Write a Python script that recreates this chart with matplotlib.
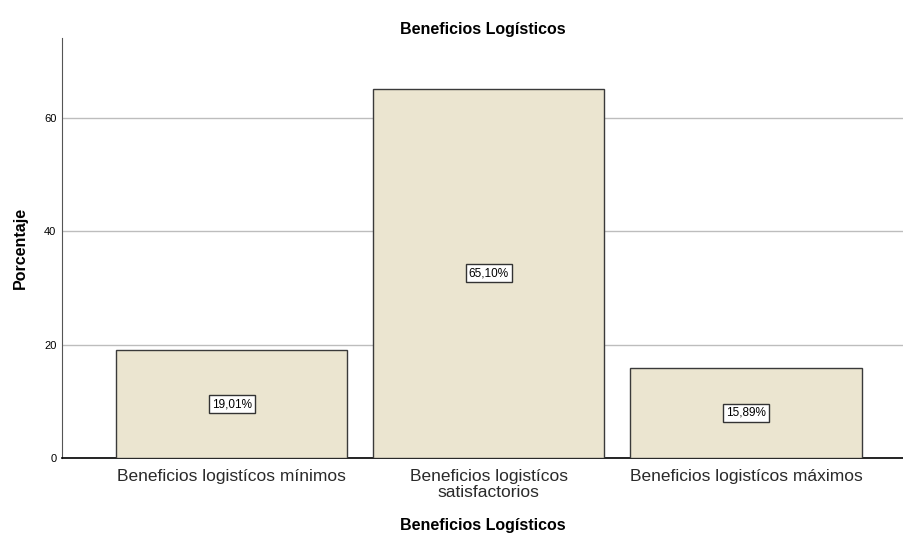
import numpy as np
import matplotlib.pyplot as plt

plt.rcParams['font.family'] = ['Liberation Sans', 'DejaVu Sans']

# --- Data ---
categories = ['Beneficios logistícos mínimos',
              'Beneficios logistícos\nsatisfactorios',
              'Beneficios logistícos máximos']
percentages = [19.01, 65.10, 15.89]
y_ticks = [0, 20, 40, 60]

fig = plt.figure(figsize=(9.04, 5.38), dpi=100)
ax = fig.add_axes([0.0686, 0.1487, 0.9314, 0.7805])

x = np.arange(len(categories))
ax.bar(x, percentages, width=0.9, color='#ebe5d0', edgecolor='#3a3a3a',
       linewidth=1.0, zorder=3)

for xi, val in zip(x, percentages):
    ax.text(xi, val / 2, f'{val:.2f}%'.replace('.', ','), ha='center', va='center',
            fontsize=8.5, zorder=4,
            bbox=dict(boxstyle='square,pad=0.25', facecolor='white',
                      edgecolor='#333333', linewidth=1.0))

ax.set_xlim(-0.66, 2.615)
ax.set_ylim(0, 74)
ax.set_yticks(y_ticks)
ax.set_yticklabels([str(t) for t in y_ticks], fontsize=8)
ax.set_xticks(x)
ax.set_xticklabels(categories, fontsize=12.5, color='#2a2a2a', linespacing=1.05)
ax.tick_params(axis='x', length=0, pad=8)
ax.tick_params(axis='y', length=0, pad=4)

ax.yaxis.grid(True, color='#bdbdbd', linewidth=1.0, zorder=0)
ax.set_axisbelow(True)

for side in ['top', 'right']:
    ax.spines[side].set_visible(False)
ax.spines['left'].set_color('#555555')
ax.spines['bottom'].set_color('black')
ax.spines['bottom'].set_linewidth(1.2)

ax.set_title('Beneficios Logísticos', fontsize=11.5, fontweight='bold', pad=3)
ax.set_xlabel('Beneficios Logísticos', fontsize=11.5, fontweight='bold', labelpad=13)
ax.set_ylabel('Porcentaje', fontsize=11.5, fontweight='bold', labelpad=12)

fig.savefig('out.png', dpi=100)
